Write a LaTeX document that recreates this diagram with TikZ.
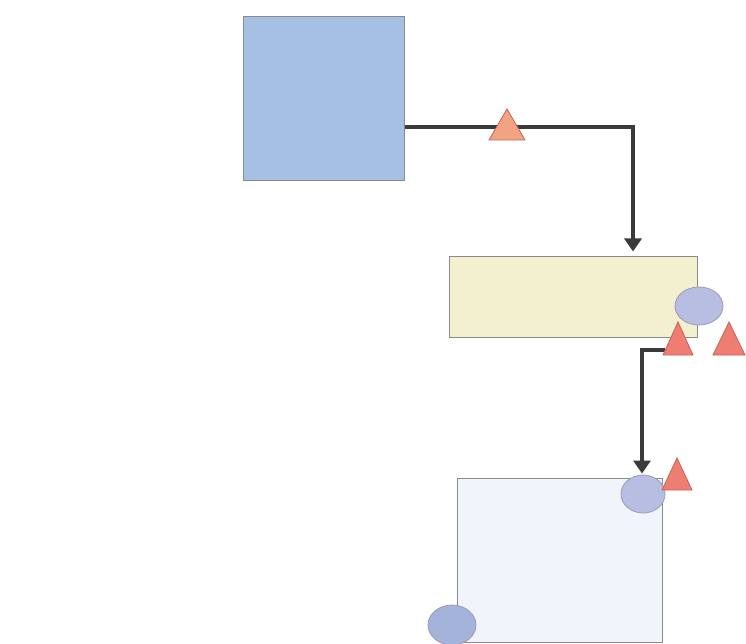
\documentclass[tikz,border=0pt]{standalone}
\usetikzlibrary{arrows.meta,shapes.geometric}
\definecolor{bluefill}{HTML}{A6C0E3}
\definecolor{yelfill}{HTML}{F2F0CE}
\definecolor{palefill}{HTML}{F1F4FA}
\definecolor{boxline}{HTML}{8A8A8A}
\definecolor{circfill}{HTML}{B8BEE2}
\definecolor{circfillb}{HTML}{A3B3DA}
\definecolor{circline}{HTML}{9A9AB8}
\definecolor{trifill}{HTML}{EE7E72}
\definecolor{triline}{HTML}{C86058}
\definecolor{trifillb}{HTML}{F2A384}
\definecolor{connc}{HTML}{3A3A3A}
\tikzset{
  box/.style={draw=boxline, line width=1pt, inner sep=0pt},
  blob/.style={ellipse, draw=circline, fill=circfill, line width=0.8pt, inner sep=0pt},
  conn/.style={draw=connc, line width=4.5pt, -{Triangle[length=13pt,width=17pt]}},
}
\newcommand{\tri}[5]{% apex y, cx, base y, halfwidth, fill
  \fill[#5, draw=triline, line width=0.8pt] (#2-#4,#3) -- (#2,#1) -- (#2+#4,#3) -- cycle;}
\begin{document}
\begin{tikzpicture}[x=1pt,y=-1pt]
\useasboundingbox (0,0) rectangle (746,644);
% boxes
\node[box, fill=bluefill, minimum width=161pt, minimum height=164pt] (blue) at (323.5,99) {};
\node[box, fill=yelfill, minimum width=248pt, minimum height=81pt] (yellow) at (573,296.5) {};
\node[box, fill=palefill, minimum width=205pt, minimum height=164pt] (pale) at (559.5,560) {};
% connectors
\coordinate (s1) at ([yshift=-28pt]blue.east);
\coordinate (e1) at ([xshift=60pt]yellow.north);
\draw[conn, shorten >=4pt] (s1) -| (e1);
\coordinate (s2) at (665,350);
\coordinate (e2) at ([xshift=82.5pt]pale.north);
\draw[conn, shorten >=4pt] (s2) -| (e2);
% markers
\tri{109}{507}{140}{18}{trifillb}
\node[blob, minimum width=48pt, minimum height=38pt] (c1) at (699,306) {};
\tri{322}{678}{355}{15}{trifill}
\tri{322}{729}{355}{16}{trifill}
\node[blob, minimum width=44pt, minimum height=38pt] (c2) at (643,494) {};
\tri{458}{677}{490}{15}{trifill}
\node[blob, fill=circfillb, minimum width=48pt, minimum height=40pt] (c3) at (452,625) {};
\end{tikzpicture}
\end{document}
